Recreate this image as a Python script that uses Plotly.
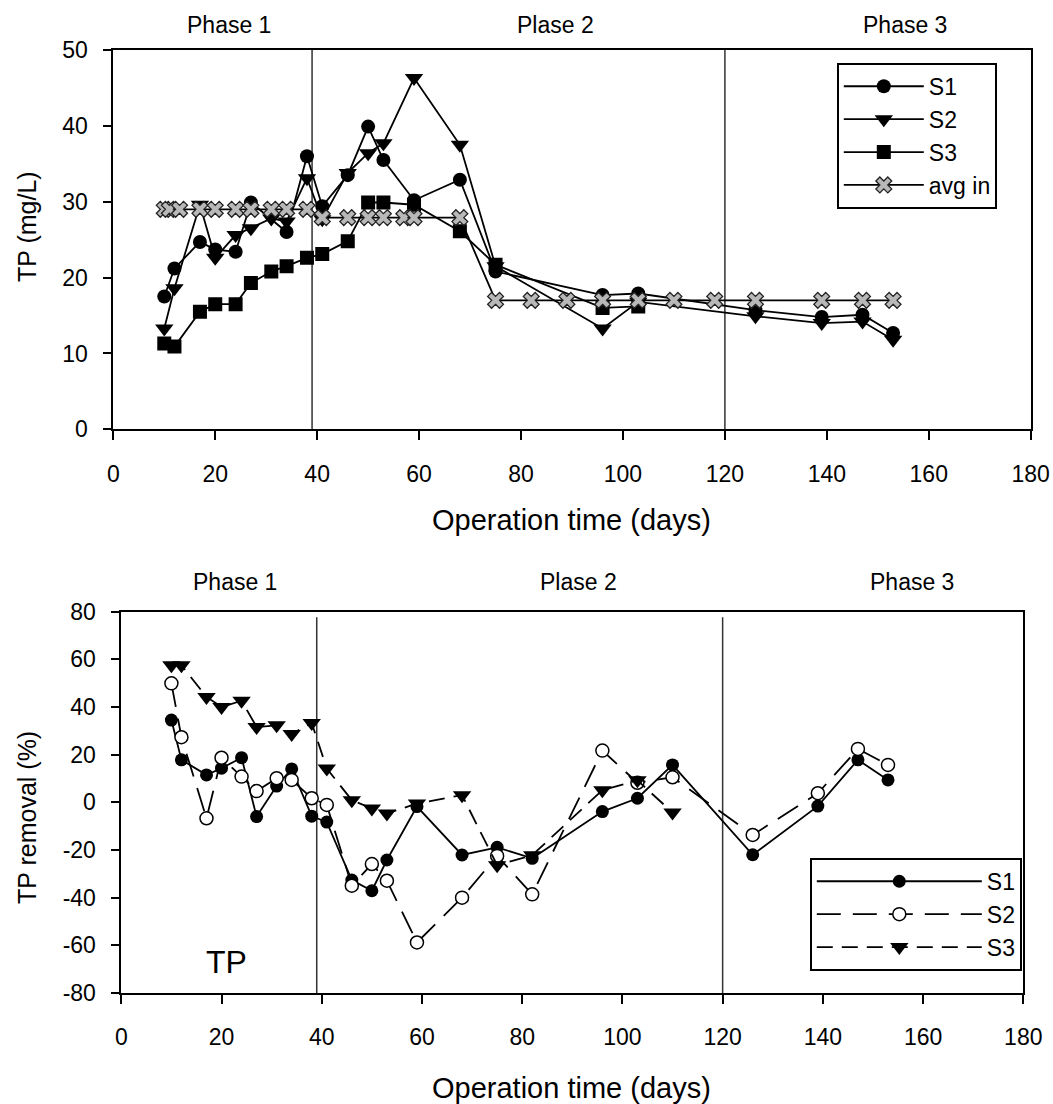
import plotly.graph_objects as go

# ---------------- data: top panel, TP concentration (mg/L) ----------------
top_S1_days = [10, 12, 17, 20, 24, 27, 34, 38, 41, 46, 50, 53, 59, 68, 75, 96, 103, 126, 139, 147, 153]
top_S1 = [17.5, 21.2, 24.7, 23.7, 23.4, 29.9, 26.0, 36.0, 29.4, 33.5, 39.9, 35.5, 30.2, 32.9,
          20.8, 17.7, 17.9, 15.7, 14.8, 15.1, 12.7]

top_S2_days = [10, 12, 17, 20, 24, 27, 31, 34, 38, 41, 46, 50, 53, 59, 68, 75, 96, 103, 126, 139, 147, 153]
top_S2 = [13.3, 18.6, 29.6, 22.6, 25.6, 26.5, 27.8, 27.4, 33.1, 27.7, 33.8, 36.4, 37.7, 46.3,
          37.5, 21.5, 13.3, 16.8, 14.9, 14.0, 14.2, 11.8]

top_S3_days = [10, 12, 17, 20, 24, 27, 31, 34, 38, 41, 46, 50, 53, 59, 68, 75, 96, 103]
top_S3 = [11.3, 10.9, 15.5, 16.5, 16.5, 19.3, 20.8, 21.5, 22.6, 23.1, 24.8, 29.9, 29.9, 29.6,
          26.1, 21.7, 16.0, 16.2]

avg_in_days = [10, 11, 13, 17, 20, 24, 27, 31, 34, 38, 41, 46, 50, 53, 57, 59, 68,
               75, 82, 89, 96, 103, 110, 118, 126, 139, 147, 153]
avg_in = [29.0, 29.0, 29.0, 29.0, 29.0, 29.0, 29.0, 29.0, 29.0, 29.0,
          27.9, 27.9, 27.9, 27.9, 27.9, 27.9, 27.9,
          17.0, 17.0, 17.0, 17.0, 17.0, 17.0, 17.0, 17.0, 17.0, 17.0, 17.0]

# ---------------- data: bottom panel, TP removal (%) ----------------
rem_S12_days = [10, 12, 17, 20, 24, 27, 31, 34, 38, 41, 46, 50, 53, 59, 68, 75, 82,
                96, 103, 110, 126, 139, 147, 153]
rem_S1 = [34.5, 17.8, 11.5, 14.3, 18.7, -6.0, 6.8, 14.0, -5.8, -8.3, -32.6, -37.1, -24.2,
          -1.8, -22.1, -18.9, -23.5, -3.9, 1.7, 15.7, -22.0, -1.6, 17.8, 9.4]
rem_S2 = [49.9, 27.3, -6.7, 18.7, 10.8, 4.7, 10.1, 9.4, 1.7, -1.1, -35.0, -25.9, -32.9,
          -58.8, -40.0, -22.5, -38.6, 21.7, 8.2, 10.5, -13.7, 3.8, 22.4, 15.7]
rem_S3_days = [10, 12, 17, 20, 24, 27, 31, 34, 38, 41, 46, 50, 53, 59, 68, 75, 82, 96, 103, 110]
rem_S3 = [57.5, 57.5, 44.2, 40.0, 42.6, 31.6, 32.3, 28.6, 33.3, 14.2, 0.9, -2.6, -4.7,
          -0.5, 3.0, -26.4, -22.2, 5.1, 9.2, -4.3]

# tick labels
x_ticks = [0, 20, 40, 60, 80, 100, 120, 140, 160, 180]
top_y_ticks = [0, 10, 20, 30, 40, 50]
bot_y_ticks = [-80, -60, -40, -20, 0, 20, 40, 60, 80]
bot_y_ticklabels = ["-80", "-60", "-40", "-20", "0", "20", "40", "60", "80"]

phase_bounds = [39, 120]
phase_labels = ["Phase 1", "Plase 2", "Phase 3"]
top_phase_label_x = [22.7, 86.7, 155.3]
bot_phase_label_x = [22.7, 91.2, 157.8]

FONT = "Arial, Liberation Sans, sans-serif"
W, H = 1053, 1104

fig = go.Figure()


def px_x(p):
    return p / W


def px_y(p):
    return 1 - p / H


# ---------- top traces ----------
lw = 1.8
fig.add_trace(go.Scatter(x=top_S1_days, y=top_S1, name="S1", mode="lines+markers",
                         line=dict(color="black", width=lw),
                         marker=dict(symbol="circle", size=14, color="black"),
                         xaxis="x", yaxis="y", legend="legend"))
fig.add_trace(go.Scatter(x=top_S2_days, y=top_S2, name="S2", mode="lines+markers",
                         line=dict(color="black", width=lw),
                         marker=dict(symbol="triangle-down", size=16, color="black"),
                         xaxis="x", yaxis="y", legend="legend"))
fig.add_trace(go.Scatter(x=top_S3_days, y=top_S3, name="S3", mode="lines+markers",
                         line=dict(color="black", width=lw),
                         marker=dict(symbol="square", size=14, color="black"),
                         xaxis="x", yaxis="y", legend="legend"))
fig.add_trace(go.Scatter(x=avg_in_days, y=avg_in, name="avg in", mode="lines+markers",
                         line=dict(color="black", width=lw),
                         marker=dict(symbol="x", size=14, color="#b8b8b8",
                                     line=dict(color="#222222", width=1.3)),
                         xaxis="x", yaxis="y", legend="legend"))

# ---------- bottom traces ----------
fig.add_trace(go.Scatter(x=rem_S12_days, y=rem_S1, name="S1", mode="lines+markers",
                         line=dict(color="black", width=lw),
                         marker=dict(symbol="circle", size=13, color="black"),
                         xaxis="x2", yaxis="y2", legend="legend2"))
fig.add_trace(go.Scatter(x=rem_S12_days, y=rem_S2, name="S2", mode="lines+markers",
                         line=dict(color="black", width=lw, dash="24px,12px"),
                         marker=dict(symbol="circle", size=13, color="white",
                                     line=dict(color="black", width=1.5)),
                         xaxis="x2", yaxis="y2", legend="legend2"))
fig.add_trace(go.Scatter(x=rem_S3_days, y=rem_S3, name="S3", mode="lines+markers",
                         line=dict(color="black", width=lw, dash="16px,9px"),
                         marker=dict(symbol="triangle-down", size=16, color="black"),
                         xaxis="x2", yaxis="y2", legend="legend2"))

# ---------- phase boundary lines ----------
for xb in phase_bounds:
    fig.add_shape(type="line", xref="x", yref="y", x0=xb, x1=xb, y0=0, y1=50,
                  line=dict(color="#333333", width=1.5), layer="below")
    fig.add_shape(type="line", xref="x2", yref="y2", x0=xb, x1=xb, y0=-80, y1=77.6,
                  line=dict(color="#333333", width=1.5), layer="below")

annotations = []
for lab, xp in zip(phase_labels, top_phase_label_x):
    annotations.append(dict(text=lab, x=xp, xref="x", y=px_y(25), yref="paper",
                            showarrow=False, font=dict(size=23, color="black", family=FONT),
                            xanchor="center", yanchor="middle"))
for lab, xp in zip(phase_labels, bot_phase_label_x):
    annotations.append(dict(text=lab, x=xp, xref="x2", y=px_y(582), yref="paper",
                            showarrow=False, font=dict(size=23, color="black", family=FONT),
                            xanchor="center", yanchor="middle"))
annotations.append(dict(text="TP", x=20.9, xref="x2", y=-67, yref="y2", showarrow=False,
                        font=dict(size=32, color="black", family=FONT),
                        xanchor="center", yanchor="middle"))
# axis titles
annotations += [
    dict(text="TP (mg/L)", x=px_x(27), y=px_y(227), xref="paper", yref="paper", textangle=-90,
         showarrow=False, font=dict(size=25, color="black", family=FONT),
         xanchor="center", yanchor="middle"),
    dict(text="Operation time (days)", x=px_x(571), y=px_y(520), xref="paper", yref="paper",
         showarrow=False, font=dict(size=29, color="black", family=FONT),
         xanchor="center", yanchor="middle"),
    dict(text="TP removal (%)", x=px_x(27), y=px_y(818), xref="paper", yref="paper", textangle=-90,
         showarrow=False, font=dict(size=25, color="black", family=FONT),
         xanchor="center", yanchor="middle"),
    dict(text="Operation time (days)", x=px_x(571), y=px_y(1088), xref="paper", yref="paper",
         showarrow=False, font=dict(size=29, color="black", family=FONT),
         xanchor="center", yanchor="middle"),
]

axis_common = dict(showgrid=False, zeroline=False, showline=True, linecolor="black",
                   linewidth=1.6, mirror=True, ticks="outside", ticklen=9, tickwidth=1.5,
                   tickcolor="black", automargin=False,
                   tickfont=dict(size=23, color="black", family=FONT))

fig.update_layout(
    template="none",
    width=W, height=H, autosize=False,
    margin=dict(l=0, r=0, t=0, b=0, pad=0, autoexpand=False),
    paper_bgcolor="white", plot_bgcolor="white",
    font=dict(family=FONT, color="black"),
    xaxis=dict(domain=[113.3 / W, 1030.7 / W], range=[0, 180], tickvals=x_ticks,
               anchor="y", ticklabelstandoff=14, **axis_common),
    yaxis=dict(domain=[px_y(429.3), px_y(50)], range=[0, 50], tickvals=top_y_ticks,
               anchor="x", ticklabelstandoff=10, **axis_common),
    xaxis2=dict(domain=[121.3 / W, 1023.3 / W], range=[0, 180], tickvals=x_ticks,
                anchor="y2", ticklabelstandoff=14, **axis_common),
    yaxis2=dict(domain=[px_y(993), px_y(611.6)], range=[-80, 80], tickvals=bot_y_ticks,
                ticktext=bot_y_ticklabels, anchor="x2", ticklabelstandoff=10, **axis_common),
    legend=dict(x=837 / W, y=px_y(63), xanchor="left", yanchor="top",
                bgcolor="white", bordercolor="black", borderwidth=1.8,
                font=dict(size=23, color="black", family=FONT), itemwidth=80,
                tracegroupgap=0),
    legend2=dict(x=810 / W, y=px_y(858), xanchor="left", yanchor="top",
                 bgcolor="white", bordercolor="black", borderwidth=1.8,
                 font=dict(size=23, color="black", family=FONT), itemwidth=165,
                 tracegroupgap=0),
    annotations=annotations,
    showlegend=True,
)

fig.write_html("out.html")
